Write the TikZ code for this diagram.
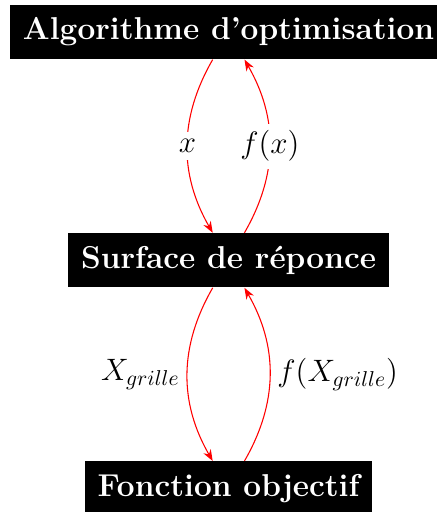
\documentclass[tikz,border=0pt]{standalone}
\usepackage{fontspec}
\usetikzlibrary{arrows.meta, positioning}

\begin{document}
\begin{tikzpicture}[
    node distance=2.83cm,
    box/.style={rectangle, fill=black, text=white, font=\fontsize{14.7}{18}\selectfont\bfseries, inner sep=6pt, minimum height=25pt},
    arrow/.style={-{Stealth}, red, line width=0.5pt},
    lbl/.style={font=\fontsize{14.7}{18}\selectfont, text=black}
]

% Frame (the top box runs past the right edge)
\useasboundingbox (-106.3pt,14.9pt) rectangle (96.5pt,-223.2pt);

% Blocks
\node[box] (algo) at (0,0) {Algorithme d'optimisation};
\node[box, below=of algo] (surf) {Surface de réponce};
\node[box, below=of surf] (fonc) {Fonction objectif};

% Optimiser <-> surface
\draw[arrow] (algo) to[bend right] node[lbl, fill=white] {$x$} (surf);
\draw[arrow] (surf) to[bend right] node[lbl, fill=white] {$f(x)$} (algo);

% Surface <-> objective
\draw[arrow] (surf) to[bend right] node[lbl, left] {$X_{grille}$} (fonc);
\draw[arrow] (fonc) to[bend right] node[lbl, right] {$f(X_{grille})$} (surf);

\end{tikzpicture}
\end{document}
